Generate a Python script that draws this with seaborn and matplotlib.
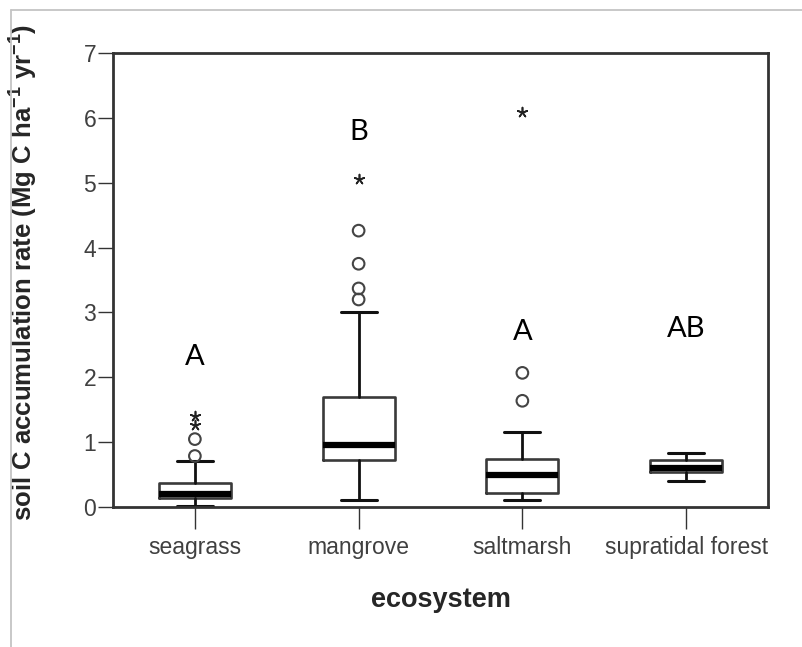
import matplotlib
matplotlib.use("Agg")
import matplotlib.pyplot as plt
from matplotlib.lines import Line2D
import seaborn as sns
import pandas as pd

# ---- data ----
categories = ["seagrass", "mangrove", "saltmarsh", "supratidal forest"]
whisker_low = [0.02, 0.12, 0.12, 0.40]
q1 = [0.14, 0.73, 0.215, 0.54]
median = [0.21, 0.96, 0.49, 0.60]
q3 = [0.38, 1.70, 0.74, 0.73]
whisker_high = [0.72, 3.01, 1.16, 0.83]

outlier_cat = ["seagrass", "seagrass", "mangrove", "mangrove", "mangrove", "mangrove",
               "saltmarsh", "saltmarsh"]
outlier_val = [0.79, 1.05, 3.20, 3.37, 3.75, 4.26, 1.64, 2.07]

extreme_cat = ["seagrass", "seagrass", "mangrove", "saltmarsh"]
extreme_val = [1.27, 1.40, 5.06, 6.08]

group_letters = ["A", "B", "A", "AB"]
letter_y = [2.19, 5.66, 2.58, 2.63]

yticks = [0, 1, 2, 3, 4, 5, 6, 7]

# ---- style ----
sns.set_style("white")
plt.rcParams["font.family"] = ["Liberation Sans", "DejaVu Sans"]
plt.rcParams["mathtext.fontset"] = "custom"
plt.rcParams["mathtext.bf"] = "Liberation Sans:bold"
plt.rcParams["mathtext.rm"] = "Liberation Sans"
plt.rcParams["mathtext.default"] = "bf"

fig = plt.figure(figsize=(8.03, 6.47), dpi=100)
ax = fig.add_axes([113 / 803, 1 - 507.3 / 647, (768 - 113) / 803, (507.3 - 52.7) / 647])

pos = {c: i for i, c in enumerate(categories)}

stats = []
for i, c in enumerate(categories):
    stats.append(dict(label=c, whislo=whisker_low[i], q1=q1[i], med=median[i],
                      q3=q3[i], whishi=whisker_high[i], fliers=[]))

ax.bxp(stats, positions=list(range(len(categories))), widths=0.44,
       capwidths=0.22, showfliers=False, patch_artist=False,
       boxprops=dict(color="#3a3a3a", linewidth=1.9),
       whiskerprops=dict(color="#111111", linewidth=2.0),
       capprops=dict(color="#111111", linewidth=2.2),
       medianprops=dict(color="black", linewidth=4.5, solid_capstyle="butt"))

df_out = pd.DataFrame({"x": [pos[c] for c in outlier_cat], "y": outlier_val})
df_ext = pd.DataFrame({"x": [pos[c] for c in extreme_cat], "y": extreme_val})

sns.scatterplot(data=df_out, x="x", y="y", ax=ax, marker="o", s=70,
                facecolor="none", edgecolor="#444444", linewidth=1.5, zorder=5)
sns.scatterplot(data=df_ext, x="x", y="y", ax=ax, marker=(5, 2, 0), s=50,
                color="#222222", linewidth=1.2, zorder=5)

for i, (lt, ly) in enumerate(zip(group_letters, letter_y)):
    ax.text(i, ly, lt, ha="center", va="baseline", fontsize=21,
            family=["Lato", "DejaVu Sans"], color="black")

ax.set_xlim(-0.5, 3.5)
ax.set_ylim(0, 7)
ax.set_xticks(range(len(categories)))
ax.set_xticklabels(categories)
ax.set_yticks(yticks)
ax.set_yticklabels([str(t) for t in yticks])

for sp in ax.spines.values():
    sp.set_visible(True)
    sp.set_color("#333333")
    sp.set_linewidth(2.0)

ax.tick_params(axis="x", which="both", bottom=True, length=16, width=1.0,
               color="#333333", labelsize=16.5, labelcolor="#404040", pad=5)
ax.tick_params(axis="y", which="both", left=True, length=11, width=1.0,
               color="#333333", labelsize=16.5, labelcolor="#404040", pad=1)

ax.set_xlabel("ecosystem", fontsize=19.5, fontweight="bold", labelpad=20)
ax.set_ylabel(r"soil C accumulation rate (Mg C ha$^{-1}$ yr$^{-1}$)",
              fontsize=18.5, fontweight="bold")
ax.yaxis.set_label_coords(-(113 - 40) / 655, (507.3 - 272) / 454.6)

# light gray frame around the picture (open on right and bottom)
fig.add_artist(Line2D([11 / 803, 11 / 803], [0, 1 - 9.5 / 647],
                      transform=fig.transFigure, color="#c4c4c4", linewidth=1.3))
fig.add_artist(Line2D([11 / 803, 1], [1 - 9.5 / 647, 1 - 9.5 / 647],
                      transform=fig.transFigure, color="#c4c4c4", linewidth=1.3))

fig.savefig("out.png", dpi=100, facecolor="white")
